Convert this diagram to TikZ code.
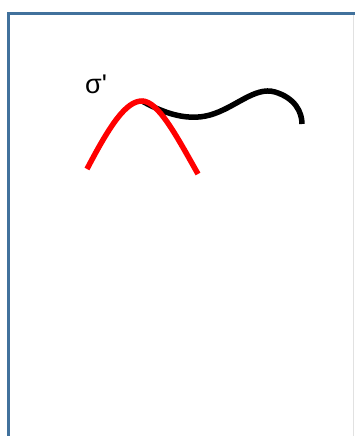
\documentclass[tikz,border=0pt]{standalone}
\usepackage{fontspec}
\setmainfont{Liberation Sans}
\definecolor{frameblue}{RGB}{65,113,156}
\definecolor{faintgray}{RGB}{225,225,225}
\tikzset{
  frameline/.style={draw=frameblue, line width=3pt},
  curveline/.style={line width=5.5pt},
  label/.style={font=\fontsize{27}{29}\selectfont, inner sep=0pt}
}
\begin{document}
\begin{tikzpicture}[x=1pt,y=-1pt]
\useasboundingbox (0,0) rectangle (354,436);
\fill[white] (0,0) rectangle (354,436);
\draw[faintgray, line width=1pt] (353,14) -- (353,436);
\draw[frameline] (8,440) -- (8,13.5) -- (356,13.5);
\node[label, anchor=base west] (sigma) at (85,93.5) {σ\textquotesingle};
\draw[curveline, black] (142,101) .. controls (160,111) and (185,122) .. (210,115)
  .. controls (235,108) and (255,86) .. (275,92)
  .. controls (295,98) and (302,112) .. (302,124);
\draw[curveline, red] (87,169) .. controls (110,125) and (126,101) .. (142,101)
  .. controls (158,101) and (176,135) .. (198,174);
\end{tikzpicture}
\end{document}
